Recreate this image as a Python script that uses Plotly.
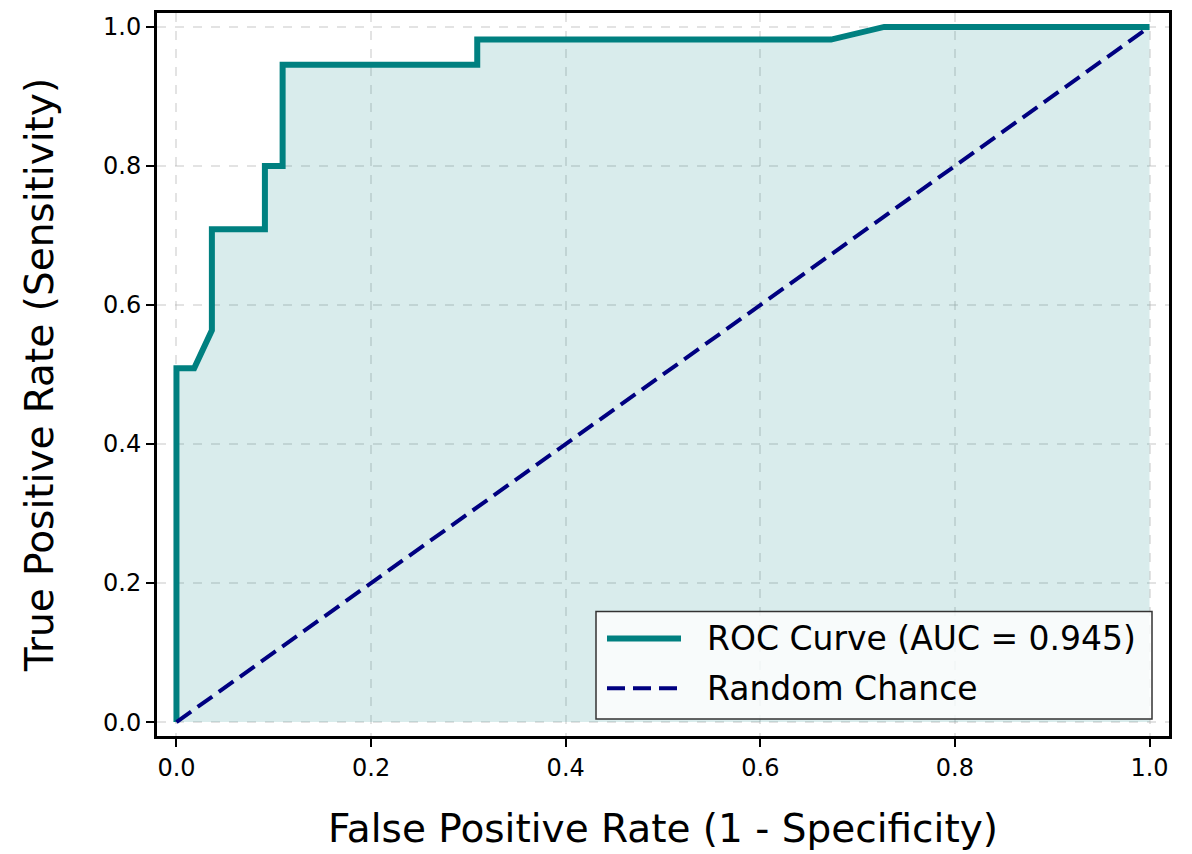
import plotly.graph_objects as go

# ROC operating points (false positive rate, true positive rate)
fpr = [0.0, 0.0, 0.0182, 0.0364, 0.0364, 0.0909, 0.0909, 0.1091, 0.1091,
       0.3091, 0.3091, 0.6727, 0.7273, 1.0]
tpr = [0.0, 0.5091, 0.5091, 0.5636, 0.7091, 0.7091, 0.8, 0.8, 0.9455,
       0.9455, 0.9818, 0.9818, 1.0, 1.0]
auc_value = 0.945

chance_x = [0.0, 1.0]
chance_y = [0.0, 1.0]

tick_vals = [0.0, 0.2, 0.4, 0.6, 0.8, 1.0]
tick_text = ["0.0", "0.2", "0.4", "0.6", "0.8", "1.0"]

roc_label = f"ROC Curve (AUC = {auc_value:.3f})"
chance_label = "Random Chance"

FONT = "DejaVu Sans"
TEAL = "#008080"
NAVY = "#000080"
CHANCE_DASH = "18px,8px"

W, H = 1192, 854
M_L, M_R, M_T, M_B = 157, 23, 10, 118
PW, PH = W - M_L - M_R, H - M_T - M_B


def px_to_paper(px, py):
    """Convert page pixel position to paper coordinates of the plot area."""
    return (px - M_L) / PW, (H - M_B - py) / PH


fig = go.Figure()

fig.add_trace(go.Scatter(
    x=fpr, y=tpr, mode="lines",
    line=dict(color=TEAL, width=6),
    fill="tozeroy", fillcolor="rgba(0,128,128,0.15)",
    name=roc_label, showlegend=False,
))

fig.add_trace(go.Scatter(
    x=chance_x, y=chance_y, mode="lines",
    line=dict(color=NAVY, width=4, dash=CHANCE_DASH),
    name=chance_label, showlegend=False,
))

axis_common = dict(
    range=[-0.02, 1.02],
    tickvals=tick_vals, ticktext=tick_text,
    ticks="outside", ticklen=8, tickwidth=2, tickcolor="black",
    tickfont=dict(family=FONT, size=24, color="black"),
    showline=True, linecolor="black", linewidth=3, mirror=True,
    showgrid=True, gridcolor="rgba(176,176,176,0.35)", gridwidth=1.5,
    griddash="dash", zeroline=False,
)

fig.update_xaxes(
    title=dict(text="False Positive Rate (1 - Specificity)",
               font=dict(family=FONT, size=39, color="black"), standoff=34),
    **axis_common,
)
fig.update_yaxes(
    title=dict(text="True Positive Rate (Sensitivity)",
               font=dict(family=FONT, size=39, color="black"), standoff=38),
    **axis_common,
)

# Legend box in the lower-right corner with long line samples
bx0, by0 = px_to_paper(596, 719)
bx1, by1 = px_to_paper(1152, 611)
fig.add_shape(type="rect", xref="paper", yref="paper",
              x0=bx0, y0=by0, x1=bx1, y1=by1,
              fillcolor="rgba(255,255,255,0.8)",
              line=dict(color="#333333", width=1.5), layer="above")

entries = [
    (roc_label, 638, dict(color=TEAL, width=6)),
    (chance_label, 688, dict(color=NAVY, width=4, dash=CHANCE_DASH)),
]
for label, row_y, line_style in entries:
    lx0, ly = px_to_paper(607, row_y)
    lx1, _ = px_to_paper(681, row_y)
    fig.add_shape(type="line", xref="paper", yref="paper",
                  x0=lx0, y0=ly, x1=lx1, y1=ly, line=line_style, layer="above")
    tx, _ = px_to_paper(705, row_y)
    fig.add_annotation(xref="paper", yref="paper", x=tx, y=ly,
                       xanchor="left", yanchor="middle", showarrow=False,
                       text=label,
                       font=dict(family=FONT, size=33, color="black"))

fig.update_layout(
    width=W, height=H,
    margin=dict(l=M_L, r=M_R, t=M_T, b=M_B),
    paper_bgcolor="white", plot_bgcolor="white",
    font=dict(family=FONT, color="black"),
    showlegend=False,
)

fig.write_html("out.html")
